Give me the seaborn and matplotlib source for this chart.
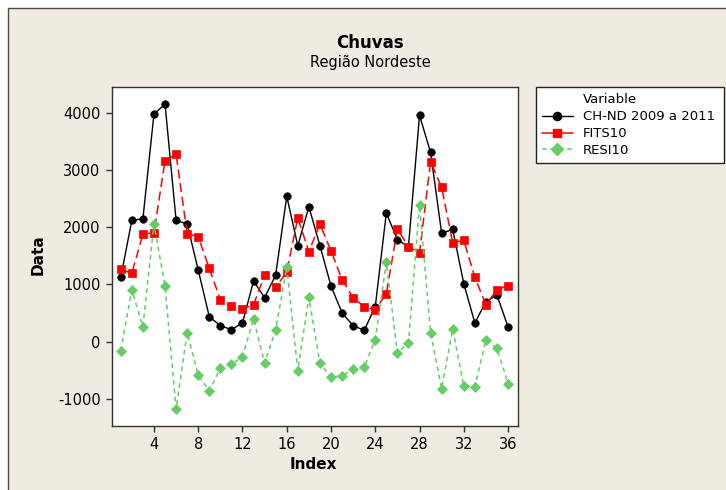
import matplotlib
matplotlib.use("Agg")
import matplotlib.pyplot as plt
import numpy as np
import pandas as pd
import seaborn as sns
from matplotlib.patches import Rectangle
from matplotlib.lines import Line2D

# Monthly rainfall series (index 1..36) with fitted values and residuals
index = list(range(1, 37))
chuvas = [1126, 2122, 2150, 3981, 4156, 2122, 2058, 1253, 437, 280,
          210, 327, 1061, 770, 1166, 2542, 1679, 2360, 1679, 974,
          502, 280, 199, 612, 2250, 1783, 1661, 3958, 3311, 1895,
          1965, 1014, 327, 699, 816, 257]
fits = [1266, 1196, 1883, 1906, 3165, 3281, 1889, 1836, 1283, 734,
        619, 577, 647, 1161, 951, 1219, 2168, 1573, 2058, 1591,
        1084, 770, 612, 554, 839, 1970, 1661, 1551, 3147, 2699,
        1731, 1773, 1126, 647, 909, 979]
resi = [-157, 909, 262, 2058, 974, -1177, 157, -582, -862, -466,
        -396, -262, 397, -378, 205, 1311, -507, 776, -378, -623,
        -594, -483, -448, 35, 1393, -203, -17, 2390, 157, -822,
        222, -775, -792, 35, -110, -734]
series_names = ["CH-ND 2009 a 2011", "FITS10", "RESI10"]
x_ticks = [4, 8, 12, 16, 20, 24, 28, 32, 36]
y_ticks = [-1000, 0, 1000, 2000, 3000, 4000]

sns.set_theme(style="ticks")
plt.rcParams["font.family"] = ["DejaVu Sans"]
plt.rcParams["text.color"] = "black"
plt.rcParams["axes.labelcolor"] = "black"
plt.rcParams["axes.unicode_minus"] = False

W, H = 726, 490
fig = plt.figure(figsize=(W / 100, H / 100), dpi=100, facecolor="white")

# beige panel behind everything
fig.patches.append(Rectangle((8 / W, -0.05), 1.2, 1 - 8 / H + 0.05,
                             transform=fig.transFigure, facecolor="#EFEBE1",
                             edgecolor="#4a4a4a", linewidth=1.0, zorder=-10))

ax = fig.add_axes([111.7 / W, 1 - 425.7 / H, (518 - 111.7) / W, (425.7 - 86.7) / H])
ax.set_facecolor("white")
ax.set_zorder(1)

df = pd.DataFrame({"Index": index, "ch": chuvas, "fits": fits, "resi": resi})

styles = [
    dict(y="ch", color="black", marker="o", markersize=5.4, linewidth=1.0, dashes=None),
    dict(y="fits", color="#FF0000", marker="s", markersize=5.8, linewidth=1.1, dashes=(6, 3)),
    dict(y="resi", color="#66CC66", marker="D", markersize=5.2, linewidth=1.1, dashes=(3, 2.5)),
]
for st in styles:
    sns.lineplot(x="Index", y=st["y"], data=df, ax=ax, color=st["color"],
                 marker=st["marker"], markersize=st["markersize"],
                 markeredgecolor=st["color"], markeredgewidth=0.5,
                 linewidth=st["linewidth"], legend=False)
    if st["dashes"] is not None:
        ax.lines[-1].set_dashes(st["dashes"])

ax.set_xlim(0.18, 36.9)
ax.set_ylim(-1470, 4460)
ax.set_xticks(x_ticks)
ax.set_yticks(y_ticks)
ax.tick_params(axis="both", which="major", direction="out", length=4, width=1,
               color="#333333", labelcolor="black", labelsize=10.5,
               bottom=True, left=True, top=False, right=False, pad=4)
for s in ax.spines.values():
    s.set_visible(True)
    s.set_color("#333333")
    s.set_linewidth(1.0)

ax.set_xlabel("Index", fontsize=11, fontweight="bold")
ax.set_ylabel("Data", fontsize=11, fontweight="bold")
ax.xaxis.set_label_coords((313 - 111.7) / 406.3, (425.7 - 457) / 339)
ax.yaxis.set_label_coords((46 - 111.7) / 406.3, (425.7 - 255) / 339)

fig.text(370 / W, 1 - 43 / H, "Chuvas", ha="center", va="center",
         fontsize=12, fontweight="bold")
fig.text(370 / W, 1 - 63 / H, "Região Nordeste", ha="center", va="center",
         fontsize=10.5)

# legend with a header row
handles = [Line2D([], [], linestyle="none", marker=None)]
labels = ["Variable"]
legend_dashes = [None, None, (3, 2.5)]
for st, name, dsh in zip(styles, series_names, legend_dashes):
    h = Line2D([], [], color=st["color"], marker=st["marker"],
               markersize=st["markersize"] + 0.5, linewidth=st["linewidth"],
               markeredgecolor=st["color"])
    if dsh is not None:
        h.set_dashes(dsh)
    handles.append(h)
    labels.append(name)

leg = fig.legend(handles, labels, loc="upper left",
                 bbox_to_anchor=(535.7 / W, 1 - 87.3 / H, (724.3 - 535.7) / W, 0.0),
                 mode="expand", fontsize=9.5, frameon=True, fancybox=False,
                 shadow=False, handlelength=2.4, handletextpad=0.7,
                 labelspacing=0.3, borderpad=0.45, borderaxespad=0)
fr = leg.get_frame()
fr.set_facecolor("white")
fr.set_edgecolor("#222222")
fr.set_linewidth(1.0)
fr.set_alpha(1)

fig.savefig("out.png", dpi=100, facecolor="white")
